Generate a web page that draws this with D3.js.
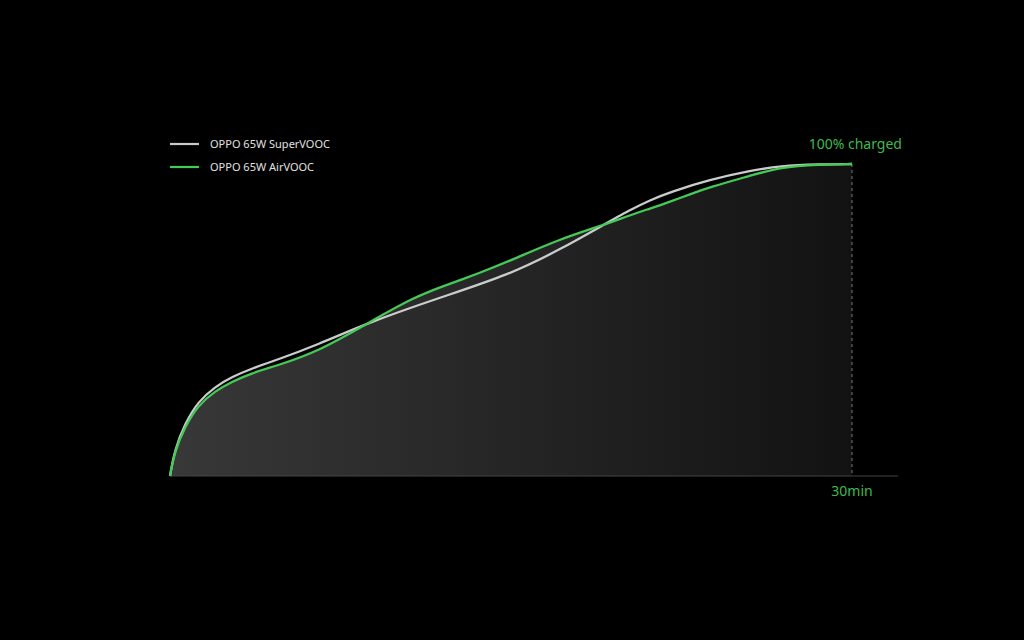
<!DOCTYPE html>
<html lang="en">
<head>
    <meta charset="UTF-8">
    <title>OPPO 65W charging curve</title>
    <script src="https://d3js.org/d3.v7.min.js"></script>
    <style>
        html, body { margin: 0; padding: 0; background: #000; }
        svg { display: block; }
        text { font-family: "Noto Sans", Lato, sans-serif; }
    </style>
</head>
<body>
<svg id="canvas" width="1024" height="640"></svg>
<script>
    // charge level (%) against time (min)
    const superMin = [0, 0.2, 0.66, 1.23, 1.98, 2.73, 3.61, 4.62, 6.47, 8.8, 11.88, 14.96, 17.16, 19.05, 20.24, 21.11, 22.0, 23.75, 25.51, 26.84, 28.59, 30];
    const superPct = [0, 8.3, 16.8, 23.8, 28.6, 31.8, 34.5, 37.0, 42.0, 49.4, 57.2, 64.6, 72.6, 80.4, 85.3, 88.4, 91.0, 95.0, 97.8, 99.4, 99.9, 100];
    const airMin = [0, 0.2, 0.66, 1.23, 1.98, 2.73, 3.61, 4.62, 6.47, 8.8, 10.69, 11.88, 13.64, 14.96, 17.16, 19.05, 20.24, 21.11, 22.0, 22.87, 23.75, 25.51, 26.84, 28.59, 30];
    const airPct = [0, 7.8, 15.8, 22.6, 27.2, 30.3, 33.0, 35.2, 39.7, 49.4, 57.1, 60.5, 65.1, 69.0, 76.0, 80.4, 83.6, 85.7, 87.9, 90.3, 92.6, 96.2, 99.0, 99.8, 100];
    const seriesNames = ["OPPO 65W SuperVOOC", "OPPO 65W AirVOOC"];
    const seriesColors = ["#c9cdca", "#45c957"];

    const svg = d3.select('svg');
    const x = d3.scaleLinear().domain([0, 30]).range([170, 852]);
    const y = d3.scaleLinear().domain([0, 100]).range([476, 164]);

    const superData = superMin.map((m, i) => ({m: m, p: superPct[i]}));
    const airData = airMin.map((m, i) => ({m: m, p: airPct[i]}));

    // dark gradient under the AirVOOC curve
    const grad = svg.append('defs').append('linearGradient')
        .attr('id', 'fillGrad').attr('x1', '0%').attr('x2', '100%').attr('y1', '0%').attr('y2', '0%');
    grad.append('stop').attr('offset', '0%').attr('stop-color', '#383838');
    grad.append('stop').attr('offset', '100%').attr('stop-color', '#121212');

    const curve = d3.curveBasis;
    const area = d3.area().x(d => x(d.m)).y0(y(0)).y1(d => y(d.p)).curve(curve);
    svg.append('path').datum(airData).attr('d', area).attr('fill', 'url(#fillGrad)');

    // baseline axis
    svg.append('line')
        .attr('x1', x(0)).attr('x2', 898).attr('y1', y(0)).attr('y2', y(0))
        .attr('stroke', '#444').attr('stroke-width', 1);

    // dashed line at 30 min
    svg.append('line')
        .attr('x1', x(30)).attr('x2', x(30)).attr('y1', y(100)).attr('y2', y(0))
        .attr('stroke', '#777').attr('stroke-width', 1).attr('stroke-dasharray', '3,3');

    const line = d3.line().x(d => x(d.m)).y(d => y(d.p)).curve(curve);
    svg.append('path').datum(superData).attr('d', line)
        .attr('fill', 'none').attr('stroke', seriesColors[0]).attr('stroke-width', 2.3);
    svg.append('path').datum(airData).attr('d', line)
        .attr('fill', 'none').attr('stroke', seriesColors[1]).attr('stroke-width', 2.3);

    // legend
    const legend = svg.append('g').selectAll('g')
        .data(seriesNames)
        .enter().append('g')
        .attr('transform', (d, i) => `translate(170,${144 + i * 23})`);
    legend.append('line').attr('x1', 0).attr('x2', 29).attr('y1', 0).attr('y2', 0)
        .attr('stroke', (d, i) => seriesColors[i]).attr('stroke-width', 2.2);
    legend.append('text').attr('x', 40).attr('y', 4)
        .attr('fill', '#e0e0e0').attr('font-size', 11).text(d => d);

    svg.append('text').attr('x', 902).attr('y', 149).attr('text-anchor', 'end')
        .attr('fill', '#3dba4f').attr('font-size', 14).text('100% charged');
    svg.append('text').attr('x', x(30)).attr('y', 496).attr('text-anchor', 'middle')
        .attr('fill', '#3dba4f').attr('font-size', 14).text('30min');
</script>
</body>
</html>
